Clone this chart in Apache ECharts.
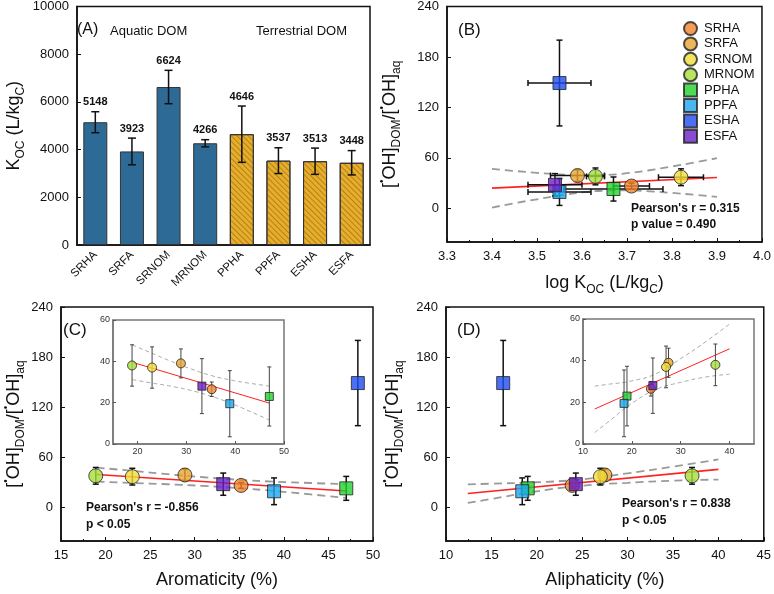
<!DOCTYPE html>
<html>
<head>
<meta charset="utf-8">
<script src="https://cdn.jsdelivr.net/npm/echarts@6/dist/echarts.min.js"></script>
<style>
html, body { margin: 0; padding: 0; background: #fff; }
#chart { width: 774px; height: 594px; }
</style>
</head>
<body>
<div id="chart"></div>
<script>
// samples, in the order of panel A
const samples = ['SRHA', 'SRFA', 'SRNOM', 'MRNOM', 'PPHA', 'PPFA', 'ESHA', 'ESFA']
const sampleColors = ['#f0842c', '#e9a52f', '#f0dc38', '#a6de3a', '#22d22e', '#1ca6ee', '#1f4cf0', '#6a1ec6']
const sampleSymbols = ['circle', 'circle', 'circle', 'circle', 'rect', 'rect', 'rect', 'rect']
const aquatic = [true, true, true, true, false, false, false, false]

// panel A
const koc = [5148, 3923, 6624, 4266, 4646, 3537, 3513, 3448]
const kocErr = [440, 560, 700, 150, 1180, 540, 550, 510]

// panels B-D
const logKoc = [3.71, 3.59, 3.82, 3.63, 3.67, 3.55, 3.55, 3.54]
const logKocErr = [0.04, 0.06, 0.05, 0.02, 0.11, 0.07, 0.07, 0.06]
const ohRatio = [26.5, 39, 37, 38, 23, 19.5, 149, 28]
const ohErr = [3.5, 7, 10, 10, 14.3, 16, 51, 13.3]
const aromaticity = [35.2, 28.9, 23.0, 18.9, 47.0, 38.9, 48.3, 33.2]
const aliphaticity = [23.9, 27.5, 27.0, 37.1, 19.0, 18.4, 16.3, 24.3]

// fitted lines and 95% bands
const fitB = [[3.4, 24.0], [3.9, 36.6]]
const bandXB = [3.40, 3.45, 3.50, 3.55, 3.60, 3.65, 3.70, 3.75, 3.80, 3.85, 3.90]
const upperB = [47.0, 44.5, 42.2, 40.3, 39.3, 39.6, 41.8, 45.3, 49.8, 54.5, 59.6]
const lowerB = [1.0, 6.1, 10.8, 15.3, 18.9, 21.0, 21.4, 20.3, 18.4, 16.1, 13.6]

const fitC = [[19, 39.5], [47, 19.8]]
const bandXC = [19, 23, 27, 31, 35, 39, 43, 47]
const upperC = [47.9, 43.9, 39.9, 36.3, 33.2, 31.0, 29.4, 28.0]
const lowerC = [31.1, 29.5, 27.9, 25.9, 23.2, 19.8, 15.8, 11.6]

const fitD = [[12.4, 16.8], [40, 45.7]]
const bandXD = [12.4, 15, 20, 25, 30, 35, 40]
const upperD = [27.8, 28.6, 30.3, 33.8, 41.0, 48.9, 57.6]
const lowerD = [5.5, 10.3, 19.5, 26.2, 29.6, 32.1, 33.5]

const yTicks = [0, 60, 120, 180, 240]

const FONT = 'Liberation Sans, Arial, sans-serif'
const INK = '#111'

const chart = echarts.init(document.getElementById('chart'))

const pairs = (xs, ys) => xs.map((x, i) => [x, ys[i]])

function errorBars(capHalf, color, width) {
  return function (params, api) {
    const x = api.value(0)
    const y = api.value(1)
    const ey = api.value(2)
    const ex = api.value(3)
    const style = { stroke: color, lineWidth: width }
    const hi = api.coord([x, y + ey])
    const lo = api.coord([x, y - ey])
    const kids = [
      { type: 'line', shape: { x1: hi[0], y1: hi[1], x2: lo[0], y2: lo[1] }, style },
      { type: 'line', shape: { x1: hi[0] - capHalf, y1: hi[1], x2: hi[0] + capHalf, y2: hi[1] }, style },
      { type: 'line', shape: { x1: lo[0] - capHalf, y1: lo[1], x2: lo[0] + capHalf, y2: lo[1] }, style },
    ]
    if (ex) {
      const l = api.coord([x - ex, y])
      const r = api.coord([x + ex, y])
      kids.push({ type: 'line', shape: { x1: l[0], y1: l[1], x2: r[0], y2: r[1] }, style })
      kids.push({ type: 'line', shape: { x1: l[0], y1: l[1] - capHalf, x2: l[0], y2: l[1] + capHalf }, style })
      kids.push({ type: 'line', shape: { x1: r[0], y1: r[1] - capHalf, x2: r[0], y2: r[1] + capHalf }, style })
    }
    return { type: 'group', children: kids }
  }
}

const ohName = '[{p|•}OH]{s|DOM}/[{p|•}OH]{s|aq}'
const nameRich = {
  s: { fontSize: 12, fontFamily: FONT, color: INK, verticalAlign: 'bottom', lineHeight: 13 },
  p: { fontSize: 10, fontFamily: FONT, color: INK, verticalAlign: 'top', lineHeight: 10 },
}
const nameStyle = { fontSize: 18, fontFamily: FONT, color: INK, lineHeight: 26, rich: nameRich }

const mainGrid = (pos) => Object.assign({ show: true, borderColor: INK, borderWidth: 1.5, backgroundColor: 'transparent' }, pos)
const insetGrid = (pos) => Object.assign({ show: true, borderColor: '#777', borderWidth: 1.5, backgroundColor: '#fff' }, pos)

function valueAxis(gridIndex, extra) {
  return Object.assign({
    type: 'value',
    gridIndex,
    splitLine: { show: false },
    axisLine: { show: true, onZero: false, lineStyle: { color: INK, width: 1.5 } },
    axisTick: { show: true, inside: true, length: 4, lineStyle: { color: INK } },
    axisLabel: { fontSize: 13, color: INK, fontFamily: FONT, formatter: (v) => String(v) },
  }, extra)
}

function insetAxis(gridIndex, extra) {
  return Object.assign({
    type: 'value',
    gridIndex,
    splitLine: { show: false },
    axisLine: { show: true, onZero: false, lineStyle: { color: '#777', width: 1.5 } },
    axisTick: { show: true, inside: true, length: 3, lineStyle: { color: '#555' } },
    axisLabel: { fontSize: 9, color: '#333', fontFamily: FONT, margin: 3 },
  }, extra)
}

const pointData = (xs, skip) => samples
  .map((s, i) => ({
    name: s,
    value: [xs[i], ohRatio[i]],
    symbol: sampleSymbols[i],
    itemStyle: { color: sampleColors[i] },
  }))
  .filter((d) => d.name !== skip)

const errData = (xs, skip) => samples
  .map((s, i) => [xs[i], ohRatio[i], ohErr[i], s])
  .filter((d) => d[3] !== skip)

function lineSeries(xi, yi, data, main) {
  return {
    type: 'line', xAxisIndex: xi, yAxisIndex: yi, data, symbol: 'none', z: 2,
    lineStyle: { color: '#ff2020', width: main ? 1.6 : 1 },
  }
}
function bandSeries(xi, yi, data, main) {
  return {
    type: 'line', xAxisIndex: xi, yAxisIndex: yi, data, symbol: 'none', smooth: true, z: 1,
    lineStyle: { color: main ? '#9a9a9a' : '#aaa', width: main ? 1.8 : 1, type: main ? [8, 5] : [4, 3] },
  }
}
function scatterSeries(xi, yi, data, main) {
  return {
    type: 'scatter', xAxisIndex: xi, yAxisIndex: yi, data, z: 4,
    symbolSize: (v, p) => (p.data.symbol === 'rect' ? (main ? 13 : 8) : (main ? 14 : 9)),
    itemStyle: { borderColor: '#222', borderWidth: 1 },
  }
}
function errSeries(xi, yi, data, main) {
  return {
    type: 'custom', xAxisIndex: xi, yAxisIndex: yi, data, z: 3,
    renderItem: errorBars(main ? 3 : 2, main ? '#111' : '#444', main ? 1.5 : 1),
  }
}

const series = []

// (A) bars
series.push({
  type: 'bar', xAxisIndex: 0, yAxisIndex: 0, barWidth: 24,
  data: koc.map((v, i) => ({
    value: v,
    itemStyle: aquatic[i]
      ? { color: '#2e6a96', borderColor: '#333', borderWidth: 1 }
      : {
          color: '#e6ae2c', borderColor: '#333', borderWidth: 1,
          decal: { symbol: 'rect', symbolSize: 1, dashArrayX: [1, 0], dashArrayY: [1, 3], rotation: Math.PI / 4, color: 'rgba(130,85,0,0.5)' },
        },
  })),
})
series.push({
  type: 'custom', xAxisIndex: 0, yAxisIndex: 0, z: 3,
  data: samples.map((s, i) => [i, koc[i], kocErr[i]]),
  renderItem: function (params, api) {
    const g = errorBars(4, '#111', 1.5)(params, api)
    const top = api.coord([api.value(0), api.value(1) + api.value(2)])
    g.children.push({
      type: 'text', x: top[0], y: top[1] - 4,
      style: { text: String(api.value(1)), fill: INK, font: 'bold 11px ' + FONT, align: 'center', verticalAlign: 'bottom' },
    })
    return g
  },
})

// (B)
series.push(bandSeries(1, 1, pairs(bandXB, upperB), true))
series.push(bandSeries(1, 1, pairs(bandXB, lowerB), true))
series.push(lineSeries(1, 1, fitB, true))
series.push(errSeries(1, 1, samples.map((s, i) => [logKoc[i], ohRatio[i], ohErr[i], logKocErr[i]]), true))
samples.forEach((s, i) => {
  series.push({
    name: s, type: 'scatter', xAxisIndex: 1, yAxisIndex: 1, z: 4,
    symbol: sampleSymbols[i], symbolSize: sampleSymbols[i] === 'rect' ? 13 : 14,
    itemStyle: { color: sampleColors[i], borderColor: '#222', borderWidth: 1 },
    data: [[logKoc[i], ohRatio[i]]],
  })
})

// (C) main and inset
series.push(bandSeries(2, 2, pairs(bandXC, upperC), true))
series.push(bandSeries(2, 2, pairs(bandXC, lowerC), true))
series.push(lineSeries(2, 2, fitC, true))
series.push(errSeries(2, 2, errData(aromaticity), true))
series.push(scatterSeries(2, 2, pointData(aromaticity), true))
series.push(bandSeries(4, 4, pairs(bandXC, upperC), false))
series.push(bandSeries(4, 4, pairs(bandXC, lowerC), false))
series.push(lineSeries(4, 4, fitC, false))
series.push(errSeries(4, 4, errData(aromaticity, 'ESHA'), false))
series.push(scatterSeries(4, 4, pointData(aromaticity, 'ESHA'), false))

// (D) main and inset
series.push(bandSeries(3, 3, pairs(bandXD, upperD), true))
series.push(bandSeries(3, 3, pairs(bandXD, lowerD), true))
series.push(lineSeries(3, 3, fitD, true))
series.push(errSeries(3, 3, errData(aliphaticity), true))
series.push(scatterSeries(3, 3, pointData(aliphaticity), true))
series.push(bandSeries(5, 5, pairs(bandXD, upperD), false))
series.push(bandSeries(5, 5, pairs(bandXD, lowerD), false))
series.push(lineSeries(5, 5, fitD, false))
series.push(errSeries(5, 5, errData(aliphaticity, 'ESHA'), false))
series.push(scatterSeries(5, 5, pointData(aliphaticity, 'ESHA'), false))

const text = (x, y, t, font) => ({
  type: 'text', x, y, z: 10,
  style: { text: t, font: font, fill: INK, verticalAlign: 'middle' },
})

const option = {
  animation: false,
  backgroundColor: '#fff',
  grid: [
    mainGrid({ left: 65, top: 6, width: 305, height: 239 }),
    mainGrid({ left: 447, top: 6, width: 321, height: 236 }),
    mainGrid({ left: 54, top: 307, width: 319, height: 240 }),
    mainGrid({ left: 446, top: 307, width: 320, height: 240 }),
    insetGrid({ left: 113, top: 320, width: 171, height: 124 }),
    insetGrid({ left: 583, top: 319, width: 171, height: 125 }),
  ],
  xAxis: [
    {
      type: 'category', gridIndex: 0, data: samples,
      axisLine: { show: true, lineStyle: { color: INK, width: 1.5 } },
      axisTick: { show: false },
      axisLabel: { rotate: 45, interval: 0, fontSize: 11.5, color: INK, fontFamily: FONT, margin: 8 },
    },
    valueAxis(1, {
      min: 3.3, max: 4.0, interval: 0.1,
      axisLabel: { fontSize: 13, color: INK, fontFamily: FONT, formatter: (v) => v.toFixed(1) },
      minorTick: { show: true, splitNumber: 2, length: 2, lineStyle: { color: INK } },
      name: 'log K{s|OC} (L/kg{s|C})', nameLocation: 'middle', nameGap: 28, nameTextStyle: nameStyle,
    }),
    valueAxis(2, {
      min: 15, max: 50, interval: 5,
      minorTick: { show: true, splitNumber: 2, length: 2, lineStyle: { color: INK } },
      name: 'Aromaticity (%)', nameLocation: 'middle', nameGap: 26, nameTextStyle: nameStyle,
    }),
    valueAxis(3, {
      min: 10, max: 45, interval: 5,
      minorTick: { show: true, splitNumber: 2, length: 2, lineStyle: { color: INK } },
      name: 'Aliphaticity (%)', nameLocation: 'middle', nameGap: 26, nameTextStyle: nameStyle,
    }),
    insetAxis(4, {
      min: 15, max: 50,
      axisLabel: { fontSize: 9, color: '#333', fontFamily: FONT, margin: 3, customValues: [20, 30, 40, 50] },
      axisTick: { show: true, inside: true, length: 3, lineStyle: { color: '#555' }, customValues: [20, 30, 40, 50] },
    }),
    insetAxis(5, { min: 10, max: 45, interval: 10, axisLabel: { fontSize: 9, color: '#333', fontFamily: FONT, margin: 3, showMaxLabel: false } }),
  ],
  yAxis: [
    valueAxis(0, {
      min: 0, max: 10000, interval: 2000,
      name: 'K{s|OC} (L/kg{s|C})', nameLocation: 'middle', nameGap: 50, nameTextStyle: nameStyle,
    }),
    valueAxis(1, {
      min: -40, max: 240,
      axisLabel: { fontSize: 13, color: INK, fontFamily: FONT, customValues: yTicks },
      axisTick: { show: true, inside: true, length: 4, lineStyle: { color: INK }, customValues: yTicks },
      name: ohName, nameLocation: 'middle', nameGap: 44, nameTextStyle: nameStyle,
    }),
    valueAxis(2, {
      min: -40, max: 240,
      axisLabel: { fontSize: 13, color: INK, fontFamily: FONT, customValues: yTicks },
      axisTick: { show: true, inside: true, length: 4, lineStyle: { color: INK }, customValues: yTicks },
      name: ohName, nameLocation: 'middle', nameGap: 34, nameTextStyle: nameStyle,
    }),
    valueAxis(3, {
      min: -40, max: 240,
      axisLabel: { fontSize: 13, color: INK, fontFamily: FONT, customValues: yTicks },
      axisTick: { show: true, inside: true, length: 4, lineStyle: { color: INK }, customValues: yTicks },
      name: ohName, nameLocation: 'middle', nameGap: 40, nameTextStyle: nameStyle,
    }),
    insetAxis(4, { min: 0, max: 60, interval: 20 }),
    insetAxis(5, { min: 0, max: 60, interval: 20 }),
  ],
  legend: {
    data: samples.map((s, i) => ({ name: s, icon: sampleSymbols[i] })),
    orient: 'vertical', left: 678, top: 16,
    itemWidth: 13, itemHeight: 13, itemGap: 0.4,
    selectedMode: false,
    textStyle: { fontSize: 13, color: INK, fontFamily: FONT, padding: [0, 0, 0, 2] },
  },
  graphic: [
    text(77, 30, '(A)', '16px ' + FONT),
    text(110, 31, 'Aquatic DOM', '13px ' + FONT),
    text(256, 31, 'Terrestrial DOM', '13px ' + FONT),
    text(458, 30, '(B)', '17px ' + FONT),
    text(631, 209, "Pearson's r = 0.315", 'bold 12px ' + FONT),
    text(631, 225, 'p value = 0.490', 'bold 12px ' + FONT),
    text(63, 330, '(C)', '17px ' + FONT),
    text(86, 508, "Pearson's r = -0.856", 'bold 12px ' + FONT),
    text(86, 525, 'p < 0.05', 'bold 12px ' + FONT),
    text(457, 330, '(D)', '17px ' + FONT),
    text(622, 504, "Pearson's r = 0.838", 'bold 12px ' + FONT),
    text(622, 521, 'p < 0.05', 'bold 12px ' + FONT),
  ],
  series,
}

chart.setOption(option)
</script>
</body>
</html>
